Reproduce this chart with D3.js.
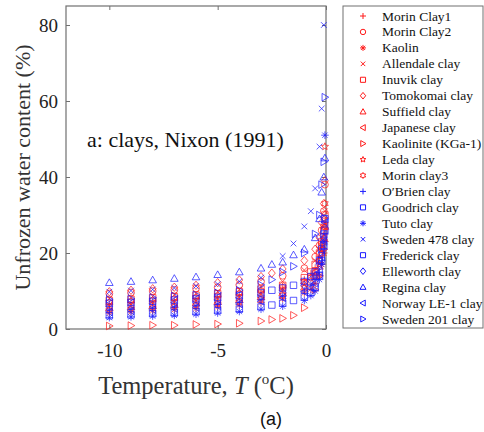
<!DOCTYPE html>
<html>
<head>
<meta charset="utf-8">
<script src="https://cdn.jsdelivr.net/npm/d3@7"></script>
<style>
  html, body { margin: 0; padding: 0; background: #fff; }
  svg { display: block; }
</style>
</head>
<body>
<svg id="chart" width="484" height="432"></svg>
<script>
// Temperature grid (°C) shared by every soil series; null = no measurement
const temps = [-10, -9, -8, -7, -6, -5, -4, -3, -2.5, -2, -1.5, -1, -0.7, -0.5, -0.3, -0.2, -0.1, -0.05];

// Unfrozen water content (%) per clay
const morinClay1   = [6.5, 7.0, 7.3, 7.6, 8.0, 8.5, 9.0, 10.0, null, 11.0, null, 13.0, 14.5, 16.0, 19.0, 22.0, 25.0, 28.0];
const morinClay2   = [9.3, 9.6, 10.0, 10.3, 10.7, 11.0, 11.6, 12.5, null, 14.0, null, 16.0, null, 19.0, 22.0, 26.0, 31.0, 38.0];
const kaolin       = [4.2, 4.5, 4.8, 5.1, 5.4, 5.8, 6.3, 7.0, null, 8.0, null, 9.5, 10.5, 12.0, 14.0, 17.0, 20.0, 23.0];
const allendale    = [8.0, 8.3, 8.6, 9.0, 9.4, 9.8, 10.4, 11.2, null, 12.5, null, 15.5, null, 18.0, 21.0, 24.0, 27.0, 31.0];
const inuvik       = [7.5, 7.8, 8.2, 8.5, 8.9, 9.3, 9.8, 10.5, null, 11.5, null, 13.5, 15.0, 17.0, 20.0, 23.0, 26.0, 30.0];
const tomokomai    = [9.8, 10.2, 10.6, 11.0, 11.5, 12.2, 12.9, 13.8, 14.7, 15.8, null, 18.0, null, 21.0, 24.0, 28.0, 33.0, 39.0];
const suffield     = [5.5, 5.8, 6.1, 6.4, 6.8, 7.2, 7.7, 8.5, null, 9.5, null, 11.0, 12.5, 14.0, 16.5, 20.0, 24.0, 27.0];
const japanese     = [6.0, 6.3, 6.7, 7.0, 7.4, 7.8, 8.3, 9.0, null, 10.2, null, 12.0, null, 15.0, 18.0, 21.0, 24.0, 27.0];
const kaolinite    = [0.8, 0.9, 1.0, 1.0, 1.2, 1.3, 1.5, 2.1, 2.5, 2.8, 3.6, 5.6, null, 10.3, 14.0, null, 21.0, null];
const leda         = [5.0, 5.3, 5.6, 6.0, 6.3, 6.7, 7.2, 8.0, null, 9.0, null, 11.0, null, 14.0, 17.0, 21.0, 29.0, 48.0];
const morinClay3   = [7.0, 7.3, 7.6, 8.0, 8.3, 8.8, 9.3, 10.0, null, 11.0, null, 12.5, 13.5, 15.0, 18.0, 22.0, 27.0, 33.0];
const obrien       = [5.0, 5.2, 5.5, 5.8, 6.1, 6.5, 7.0, 7.7, null, 8.6, null, 10.0, 11.5, 13.0, 15.0, 18.0, 21.0, 25.0];
const goodrich     = [6.8, 7.0, 7.3, 7.6, 7.9, 8.3, 8.8, 9.5, 10.2, 10.8, 11.5, 12.5, 13.8, 15.0, 18.0, 21.0, 25.0, 29.0];
const tuto         = [3.0, 3.2, 3.4, 3.6, 3.9, 4.2, 4.6, 5.2, null, 6.0, null, 7.5, 8.8, 10.0, 13.0, 17.0, 23.0, 51.0];
const sweden478    = [9.8, 10.1, 10.4, 10.8, 11.3, 11.8, 12.5, 13.5, null, 19.2, 22.5, 27.0, 31.0, 37.0, 48.0, 58.0, 80.0, null];
const frederick    = [3.5, 3.7, 4.0, 4.2, 4.5, 4.8, 5.2, 5.8, 6.3, 6.8, 7.5, 8.5, 9.5, 11.0, 14.0, 18.0, 22.0, 26.0];
const elleworth    = [5.8, 6.0, 6.3, 6.6, 7.0, 7.4, 7.9, 8.6, null, 9.6, null, 11.5, 12.8, 14.0, 17.0, 20.0, 24.0, 29.0];
const regina       = [12.2, 12.5, 12.9, 13.3, 13.7, 14.3, 15.0, 16.0, 17.0, 17.6, 19.5, 21.0, null, 24.0, 29.0, 36.0, 40.0, 45.0];
const norwayLE1    = [4.5, 4.8, 5.1, 5.4, 5.7, 6.1, 6.6, 7.3, null, 8.2, null, 9.8, 10.8, 12.0, 15.0, 19.0, 23.0, 28.0];
const sweden201    = [7.8, 8.0, 8.3, 8.7, 9.0, 9.5, 10.2, 11.6, 13.0, 15.0, 16.5, 20.0, null, 25.0, 30.0, 38.0, 44.0, 61.0];

const seriesNames = ["Morin Clay1", "Morin Clay2", "Kaolin", "Allendale clay", "Inuvik clay",
  "Tomokomai clay", "Suffield clay", "Japanese clay", "Kaolinite (KGa-1)", "Leda clay",
  "Morin clay3", "O\u2032Brien clay", "Goodrich clay", "Tuto clay", "Sweden 478 clay",
  "Frederick clay", "Elleworth clay", "Regina clay", "Norway LE-1 clay", "Sweden 201 clay"];
const seriesValues = [morinClay1, morinClay2, kaolin, allendale, inuvik, tomokomai, suffield,
  japanese, kaolinite, leda, morinClay3, obrien, goodrich, tuto, sweden478, frederick,
  elleworth, regina, norwayLE1, sweden201];

const xTicks = [-10, -5, 0];
const yTicks = [0, 20, 40, 60, 80];

// Marker style per series (shape, colour)
const markerShapes = ["plus", "circle", "asterisk", "cross", "square", "diamond", "triUp", "triLeft",
  "triRight", "pentagram", "hexagram", "plus", "square", "asterisk", "cross", "square", "diamond",
  "triUp", "triLeft", "triRight"];
const RED = "#ff1a1a", BLUE = "#1a1aff";
const markerColors = seriesNames.map((d, i) => i < 11 ? RED : BLUE);

// Outline marker path generator
function markerPath(shape, r) {
  const p = d3.path();
  const star = (n, inner) => {
    for (let k = 0; k < 2 * n; k++) {
      const rr = k % 2 === 0 ? r : r * inner;
      const a = -Math.PI / 2 + k * Math.PI / n;
      const px = rr * Math.cos(a), py = rr * Math.sin(a);
      if (k === 0) p.moveTo(px, py); else p.lineTo(px, py);
    }
    p.closePath();
  };
  switch (shape) {
    case "plus":
      p.moveTo(-r, 0); p.lineTo(r, 0); p.moveTo(0, -r); p.lineTo(0, r); break;
    case "cross": {
      const c = r * 0.75;
      p.moveTo(-c, -c); p.lineTo(c, c); p.moveTo(-c, c); p.lineTo(c, -c); break;
    }
    case "asterisk": {
      const c = r * 0.7;
      p.moveTo(-r, 0); p.lineTo(r, 0); p.moveTo(0, -r); p.lineTo(0, r);
      p.moveTo(-c, -c); p.lineTo(c, c); p.moveTo(-c, c); p.lineTo(c, -c); break;
    }
    case "circle":
      p.moveTo(r * 0.9, 0); p.arc(0, 0, r * 0.9, 0, 2 * Math.PI); break;
    case "square": {
      const s = r * 0.85;
      p.rect(-s, -s, 2 * s, 2 * s); break;
    }
    case "diamond":
      p.moveTo(0, -r * 1.1); p.lineTo(r * 0.9, 0); p.lineTo(0, r * 1.1); p.lineTo(-r * 0.9, 0); p.closePath(); break;
    case "triUp":
      p.moveTo(0, -r); p.lineTo(r, r * 0.75); p.lineTo(-r, r * 0.75); p.closePath(); break;
    case "triLeft":
      p.moveTo(-r, 0); p.lineTo(r * 0.75, -r); p.lineTo(r * 0.75, r); p.closePath(); break;
    case "triRight":
      p.moveTo(r, 0); p.lineTo(-r * 0.75, -r); p.lineTo(-r * 0.75, r); p.closePath(); break;
    case "pentagram": star(5, 0.45); break;
    case "hexagram": star(6, 0.6); break;
  }
  return p.toString();
}

const svg = d3.select("#chart");
const margin = { left: 66, right: 158, top: 6, bottom: 103 };
const W = 484, H = 432;
const plotW = W - margin.left - margin.right;   // 260
const plotH = H - margin.top - margin.bottom;   // 323

const x = d3.scaleLinear().domain([-12, 0]).range([margin.left, margin.left + plotW]);
const y = d3.scaleLinear().domain([0, 85]).range([margin.top + plotH, margin.top]);

const AXIS = "#707070";
const SERIF = "'Liberation Serif', 'Times New Roman', serif";
const plainNum = d => String(d);

// Axes (ticks drawn inward on all four sides)
const gx = svg.append("g").attr("transform", `translate(0,${margin.top + plotH})`)
  .call(d3.axisBottom(x).tickValues(xTicks).tickSize(-4).tickPadding(15).tickFormat(plainNum));
const gxTop = svg.append("g").attr("transform", `translate(0,${margin.top})`)
  .call(d3.axisTop(x).tickValues(xTicks).tickSize(-4).tickFormat(""));
const gy = svg.append("g").attr("transform", `translate(${margin.left},0)`)
  .call(d3.axisLeft(y).tickValues(yTicks).tickSize(-4).tickPadding(8).tickFormat(plainNum));
const gyRight = svg.append("g").attr("transform", `translate(${margin.left + plotW},0)`)
  .call(d3.axisRight(y).tickValues(yTicks).tickSize(-4).tickFormat(""));

[gx, gxTop, gy, gyRight].forEach(g => {
  g.select(".domain").remove();
  g.selectAll(".tick line").attr("stroke", AXIS).attr("stroke-width", 1);
  g.selectAll("text").attr("font-family", SERIF).attr("font-size", 19).attr("fill", "#222");
});

// Plot frame
svg.append("rect")
  .attr("x", margin.left).attr("y", margin.top)
  .attr("width", plotW).attr("height", plotH)
  .attr("fill", "none").attr("stroke", AXIS).attr("stroke-width", 1.2);

// Data markers
const points = [];
seriesValues.forEach((vals, si) => {
  vals.forEach((v, ti) => {
    if (v !== null) points.push({ si, t: temps[ti], v });
  });
});
svg.append("g").selectAll("path")
  .data(points)
  .join("path")
  .attr("transform", d => `translate(${x(d.t)},${y(d.v)})`)
  .attr("d", d => markerPath(markerShapes[d.si], 3.8))
  .attr("fill", "none")
  .attr("stroke", d => markerColors[d.si])
  .attr("stroke-width", 0.9)
  .attr("stroke-opacity", 0.8);

// In-plot annotation
svg.append("text")
  .attr("x", 87).attr("y", 147)
  .attr("font-family", SERIF).attr("font-size", 22).attr("fill", "#111")
  .text("a: clays, Nixon (1991)");

// Axis titles
const xTitle = svg.append("text")
  .attr("x", 196).attr("y", 394)
  .attr("text-anchor", "middle")
  .attr("font-family", SERIF).attr("font-size", 24.5).attr("fill", "#333");
xTitle.append("tspan").text("Temperature, ");
xTitle.append("tspan").attr("font-style", "italic").text("T");
xTitle.append("tspan").text(" (");
xTitle.append("tspan").attr("font-size", 15).attr("dy", -10).text("o");
xTitle.append("tspan").attr("dy", 10).text("C)");

svg.append("text")
  .attr("transform", `translate(30,${margin.top + plotH / 2}) rotate(-90)`)
  .attr("text-anchor", "middle")
  .attr("font-family", SERIF).attr("font-size", 22).attr("fill", "#333")
  .text("Unfrozen water content (%)");

svg.append("text")
  .attr("x", 271).attr("y", 425)
  .attr("text-anchor", "middle")
  .attr("font-family", "'Liberation Sans', Arial, sans-serif").attr("font-size", 18).attr("fill", "#111")
  .text("(a)");

// Legend
const legX = 343, legY = 6, legW = 140, legH = 322;
const legend = svg.append("g");
legend.append("rect")
  .attr("x", legX).attr("y", legY).attr("width", legW).attr("height", legH)
  .attr("fill", "#fff").attr("stroke", AXIS).attr("stroke-width", 1);
const rowY = d3.scaleLinear().domain([0, seriesNames.length - 1]).range([16, 319]);
const rows = legend.selectAll("g.row").data(seriesNames).join("g")
  .attr("class", "row")
  .attr("transform", (d, i) => `translate(0,${rowY(i)})`);
rows.append("path")
  .attr("transform", "translate(363,0)")
  .attr("d", (d, i) => markerPath(markerShapes[i], 3))
  .attr("fill", "none")
  .attr("stroke", (d, i) => markerColors[i])
  .attr("stroke-width", 1);
rows.append("text")
  .attr("x", 382).attr("y", 4.5)
  .attr("font-family", SERIF).attr("font-size", 13.5).attr("fill", "#111")
  .text(d => d);
</script>
</body>
</html>
